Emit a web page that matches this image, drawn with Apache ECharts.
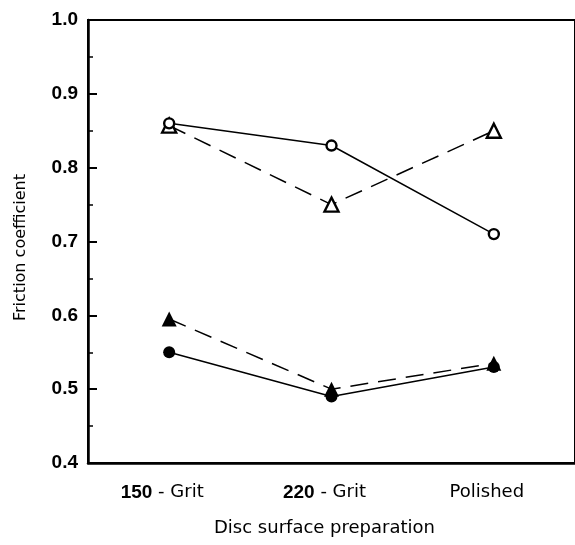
<!DOCTYPE html>
<html>
<head>
<meta charset="utf-8">
<script src="https://cdn.jsdelivr.net/npm/echarts@6/dist/echarts.min.js"></script>
<style>
  html, body { margin: 0; padding: 0; background: #fff; }
  #chart { width: 575px; height: 545px; }
</style>
</head>
<body>
<div id="chart"></div>
<script>
// Surface preparations on the x axis
const categories = [['150', ' - Grit'], ['220', ' - Grit'], ['', 'Polished']];
// Friction coefficient for each set of conditions
const openCircle = [0.86, 0.83, 0.71];
const openTriangle = [0.857, 0.75, 0.85];
const filledTriangle = [0.595, 0.50, 0.535];
const filledCircle = [0.55, 0.49, 0.53];
const yTicks = [0.4, 0.5, 0.6, 0.7, 0.8, 0.9, 1.0];

const chart = echarts.init(document.getElementById('chart'));

const lineBase = (name, data, symbol, size, filled, dashed) => ({
  name: name,
  type: 'line',
  data: data,
  symbol: symbol,
  symbolSize: size,
  showAllSymbol: true,
  z: dashed ? 3 : 4,
  lineStyle: {
    color: '#000',
    width: 1.5,
    type: dashed ? [18, 10] : 'solid'
  },
  itemStyle: {
    color: filled ? '#000' : '#fff',
    borderColor: '#000',
    borderWidth: filled ? 0 : 2.4
  },
  emphasis: { disabled: true }
});

chart.setOption({
  animation: false,
  grid: {
    left: 88, right: -7, top: 20, bottom: 82,
    show: true, borderColor: '#000', borderWidth: 2, backgroundColor: 'transparent'
  },
  xAxis: {
    type: 'category',
    data: categories.map(c => c[0] + '|' + c[1]),
    boundaryGap: true,
    axisLine: { lineStyle: { color: '#000', width: 2.5 } },
    axisTick: { show: false },
    axisLabel: {
      margin: 20,
      formatter: v => {
        const [num, rest] = v.split('|');
        return (num ? '{n|' + num + '}' : '') + '{t|' + rest + '}';
      },
      rich: {
        n: { fontFamily: 'Liberation Sans', fontWeight: 'bold', fontSize: 19, color: '#000' },
        t: { fontFamily: 'DejaVu Sans', fontSize: 18, color: '#000', padding: [0, 14, 0, 0] }
      }
    },
    name: 'Disc surface preparation',
    nameLocation: 'middle',
    nameGap: 56,
    nameTextStyle: { fontFamily: 'DejaVu Sans', fontSize: 18, color: '#000', padding: [0, 0, 0, -14] }
  },
  yAxis: {
    type: 'value',
    min: yTicks[0],
    max: yTicks[yTicks.length - 1],
    interval: 0.1,
    splitLine: { show: false },
    axisLine: { show: true, lineStyle: { color: '#000', width: 2.5 } },
    axisTick: { show: true, inside: true, length: 9, lineStyle: { color: '#000', width: 2 } },
    minorTick: { show: true, splitNumber: 2, length: 5, lineStyle: { color: '#000', width: 1.5 } },
    axisLabel: {
      margin: 10,
      formatter: v => v.toFixed(1),
      fontFamily: 'Liberation Sans',
      fontWeight: 'bold',
      fontSize: 19,
      color: '#000'
    },
    name: 'Friction coefficient',
    nameLocation: 'middle',
    nameGap: 59,
    nameTextStyle: { fontFamily: 'DejaVu Sans', fontSize: 16, color: '#000', padding: [0, 12, 0, 0] }
  },
  series: [
    lineBase('open circle', openCircle, 'circle', 10, false, false),
    lineBase('open triangle', openTriangle, 'triangle', 14, false, true),
    lineBase('filled triangle', filledTriangle, 'triangle', 15, true, true),
    lineBase('filled circle', filledCircle, 'circle', 12, true, false)
  ]
});
</script>
</body>
</html>
